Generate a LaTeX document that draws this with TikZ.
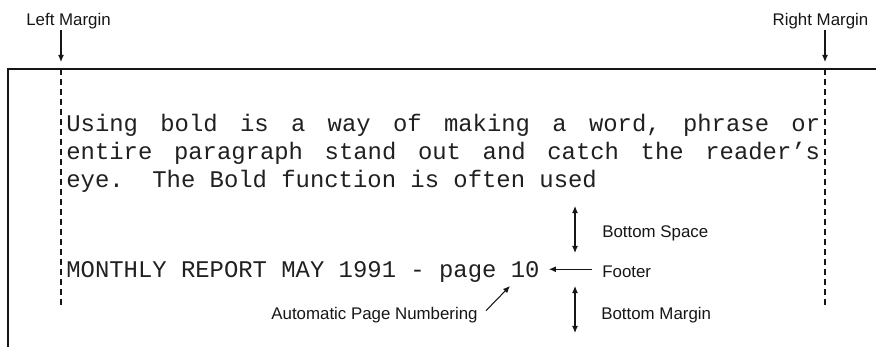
\documentclass[tikz,border=0pt]{standalone}
\usepackage{fontspec}
\setmainfont{Liberation Sans}
\newfontfamily\typewriter{Liberation Mono}
\usetikzlibrary{arrows.meta,calc,positioning}
\usepackage{xcolor}
\definecolor{pageInk}{HTML}{161616}
\definecolor{typeInk}{HTML}{202020}
\newlength{\bodyW}\setlength{\bodyW}{15.08cm}
\newcommand{\spreadline}[1]{\makebox[\bodyW][s]{\spaceskip=0.6em plus 1fil\relax #1}}

\begin{document}
\begin{tikzpicture}[x=0.02cm, y=-0.02cm,
  every node/.style    ={text=pageInk},
  frame/.style         ={line width=0.8pt, pageInk},
  guide/.style         ={line width=0.6pt, pageInk, dash pattern=on 3.4pt off 2.3pt},
  ptr/.style           ={-{Latex[length=4pt,width=3.4pt]}, line width=0.6pt, pageInk},
  dptr/.style          ={{Latex[length=4pt,width=3.4pt]}-{Latex[length=4pt,width=3.4pt]}, line width=0.6pt, pageInk},
  lbl/.style           ={font=\fontsize{9.6}{11}\selectfont, inner sep=0pt},
  typed/.style         ={font=\typewriter\fontsize{13.6}{16}\selectfont\frenchspacing, text=typeInk, inner sep=0pt, anchor=base west},
]

\def\xPage{8}\def\yPage{69}
\def\xLm{61}\def\xRm{825}\def\yGuide{305}
\def\xText{66}
\def\yLa{132}\def\yLb{160}\def\yLc{188}\def\yFoot{278}
\def\xDim{575}

\useasboundingbox (0,0) rectangle (876,347);

\draw[frame] (\xPage,347) -- (\xPage,\yPage) -- (876,\yPage);

\coordinate (lmTop) at (\xLm,\yPage);
\coordinate (lmBot) at (\xLm,\yGuide);
\coordinate (rmTop) at (\xRm,\yPage);
\coordinate (rmBot) at (\xRm,\yGuide);
\draw[guide] (lmTop) -- (lmBot);
\draw[guide] (rmTop) -- (rmBot);

\node[lbl, anchor=base] (lmlbl) at (68.5,26) {Left Margin};
\node[lbl, anchor=base] (rmlbl) at (820.5,26) {Right Margin};
\draw[ptr, shorten >=0.14cm] (lmlbl.south -| lmTop) -- (lmTop);
\draw[ptr, shorten >=0.14cm] (rmlbl.south -| rmTop) -- (rmTop);

\node[typed] (linea) at (\xText,\yLa) {\spreadline{Using bold is a way of making a word, phrase or}};
\node[typed] (lineb) at (\xText,\yLb) {\spreadline{entire paragraph stand out and catch the reader’s}};
\node[typed] (linec) at (\xText,\yLc) {eye.\ \ The Bold function is often used};
\node[typed] (footer) at (\xText,\yFoot) {MONTHLY REPORT MAY 1991 - page 10};

\node[lbl, anchor=base west] (bslbl) at (602,238) {Bottom Space};
\node[lbl, anchor=base west] (footlbl) at (602,278) {Footer};
\node[lbl, anchor=base west] (bmlbl) at (601,320) {Bottom Margin};
\node[lbl, anchor=base east] (apnlbl) at (478,320) {Automatic Page Numbering};

\coordinate (bsTop) at (\xDim,206);
\coordinate (bsBot) at (\xDim,253);
\coordinate (bmTop) at (\xDim,286);
\coordinate (bmBot) at (\xDim,333);
\draw[dptr] (bsTop) -- (bsBot);
\draw[dptr] (bmTop) -- (bmBot);

\draw[ptr, shorten <=0.2cm, shorten >=0.18cm] ([yshift=0.06cm]footlbl.west) -- ([yshift=0.06cm]footer.east |- footlbl.west);
\coordinate (apnTip) at (510,286);
\draw[ptr] ($(apnlbl.east)+(8,-5)$) -- (apnTip);

\end{tikzpicture}
\end{document}
